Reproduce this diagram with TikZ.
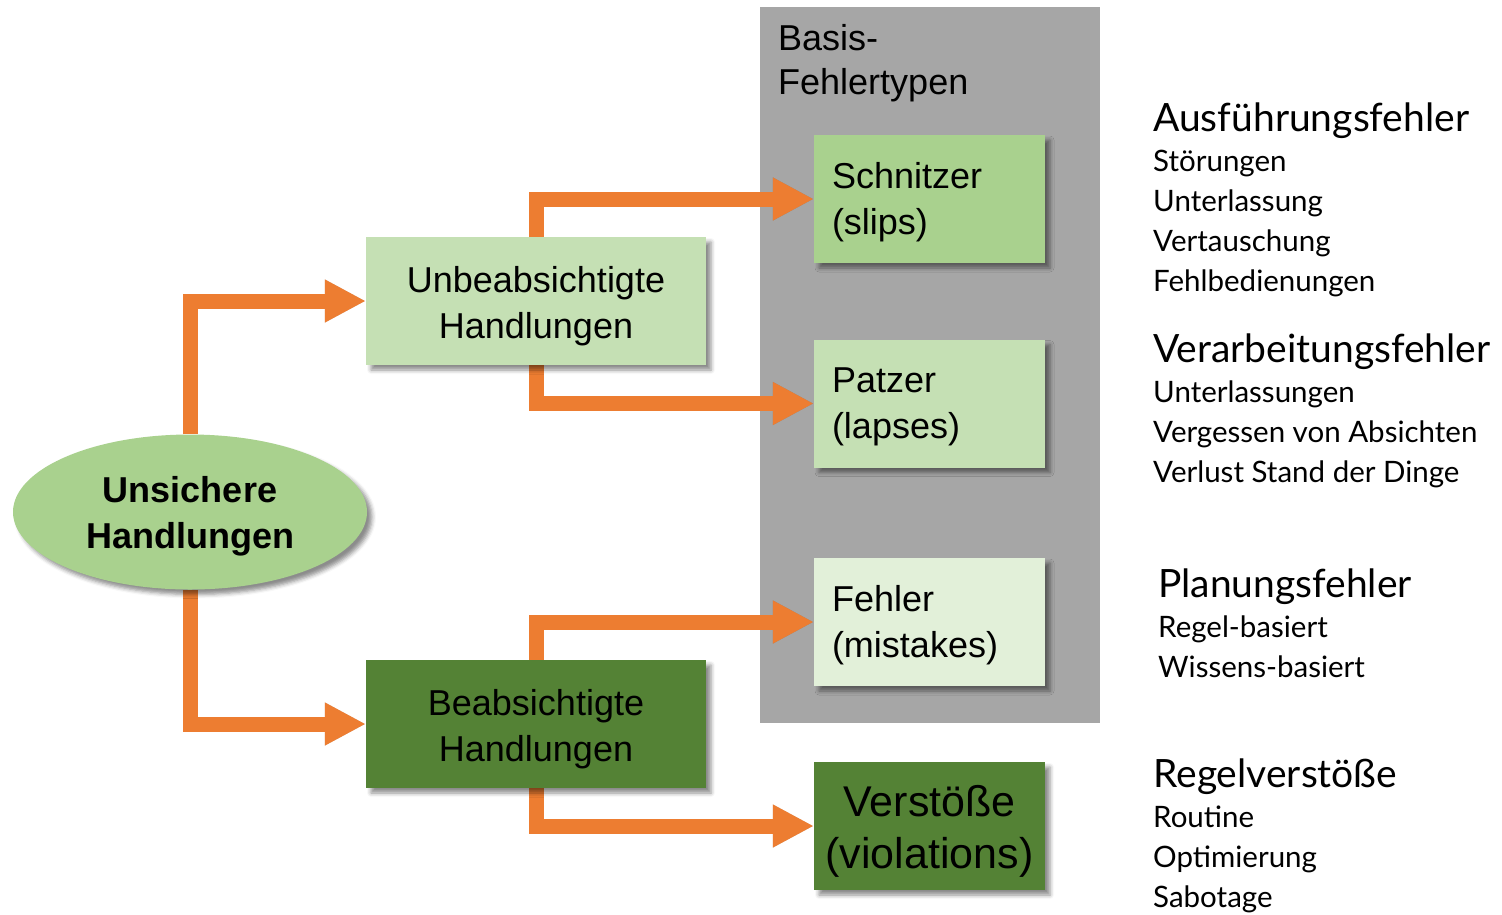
\documentclass[tikz,border=0pt]{standalone}
\usepackage{fontspec}
\setmainfont{Liberation Sans}
\newfontfamily\listfont{Lato}
\newcommand\listhead{\fontsize{39}{40}\selectfont}
\usetikzlibrary{arrows.meta,shadows,shadows.blur,shapes.geometric,backgrounds}
\definecolor{arroworange}{HTML}{ED7D31}
\definecolor{midgreen}{HTML}{A9D18E}
\definecolor{lightgreen}{HTML}{C5E0B4}
\definecolor{palegreen}{HTML}{E2F0D9}
\definecolor{darkgreen}{HTML}{548235}
\definecolor{basisgray}{HTML}{A6A6A6}
\begin{document}
\begin{tikzpicture}[
                        x=1pt, y=-1pt,
                        >={Triangle[length=41pt,width=40pt]},
                        shadowed/.style={blur shadow={shadow xshift=5pt,shadow yshift=-5pt,
                                    shadow blur radius=4pt,shadow opacity=45}},
                        box/.style={rectangle, shadowed, inner sep=0pt, minimum height=128pt,
                                    text height=32pt, text depth=49pt,
                                    font=\fontsize{36}{46}\selectfont},
                        leftbox/.style={box, minimum width=231pt, text width=195pt, align=left,
                                    text depth=54pt},
                        midbox/.style={box, minimum width=340pt, text width=320pt, align=center},
                        flow/.style={->, draw=arroworange, line width=15pt},
                        flowshadow/.style={draw=black, opacity=.18, line width=15pt,
                                    -{Triangle[length=41pt,width=40pt]}, xshift=5pt, yshift=-5pt},
                        listtext/.style={anchor=base west, align=left, inner sep=0pt,
                                    font=\listfont\fontsize{29.5}{40}\selectfont}
                    ]
                    \useasboundingbox (0,0) rectangle (1502,914);

                    % Blocks
                    \node [ellipse, shadowed, fill=midgreen, minimum width=354pt, minimum height=155pt,
                           inner sep=0pt, text width=250pt, align=center, text height=32pt, text depth=52pt,
                           font=\bfseries\fontsize{36}{46}\selectfont]
                           (unsafe) at (190,512) {Unsichere\\Handlungen};
                    \node [midbox, fill=lightgreen] (unint) at (536,301) {Unbeabsichtigte\\Handlungen};
                    \node [midbox, fill=darkgreen] (int) at (536,724) {Beabsichtigte\\Handlungen};
                    \node [leftbox, fill=midgreen] (slips) at (929.5,199) {Schnitzer\\(slips)};
                    \node [leftbox, fill=lightgreen] (lapses) at (929.5,403.5) {Patzer\\(lapses)};
                    \node [leftbox, fill=palegreen] (mistakes) at (929.5,622) {Fehler\\(mistakes)};
                    \node [box, fill=darkgreen, minimum width=231pt, text width=225pt, align=center,
                           text height=38pt, text depth=57pt,
                           font=\fontsize{43}{52}\selectfont] (violations) at (929.5,826) {Verstöße\\(violations)};

                    % Connections (behind the blocks)
                    \begin{scope}[on background layer]
                        \fill [basisgray] (760,7) rectangle (1100,723);
                        \node [anchor=north west, align=left, inner sep=0pt,
                               font=\fontsize{36}{44}\selectfont] (basis) at (778,24) {Basis-\\Fehlertypen};
                        \foreach \from/\to in {unsafe.north/unint.west, unsafe.south/int.west,
                                               unint.north/slips.west, unint.south/lapses.west,
                                               int.north/mistakes.west, int.south/violations.west}
                        {
                            \draw [flowshadow] (\from) |- (\to);
                            \draw [flow] (\from) |- (\to);
                        }
                    \end{scope}

                    % Error types
                    \node [listtext] (exec) at (1153,291) {{\listhead Ausführungsfehler}\\Störungen\\Unterlassung\\Vertauschung\\Fehlbedienungen};
                    \node [listtext] (proc) at (1153,482) {{\listhead Verarbeitungsfehler}\\Unterlassungen\\Vergessen von Absichten\\Verlust Stand der Dinge};
                    \node [listtext] (plan) at (1158,677) {{\listhead Planungsfehler}\\Regel-basiert\\Wissens-basiert};
                    \node [listtext] (rule) at (1153,907) {{\listhead Regelverstöße}\\Routine\\Optimierung\\Sabotage};
                \end{tikzpicture}
\end{document}
